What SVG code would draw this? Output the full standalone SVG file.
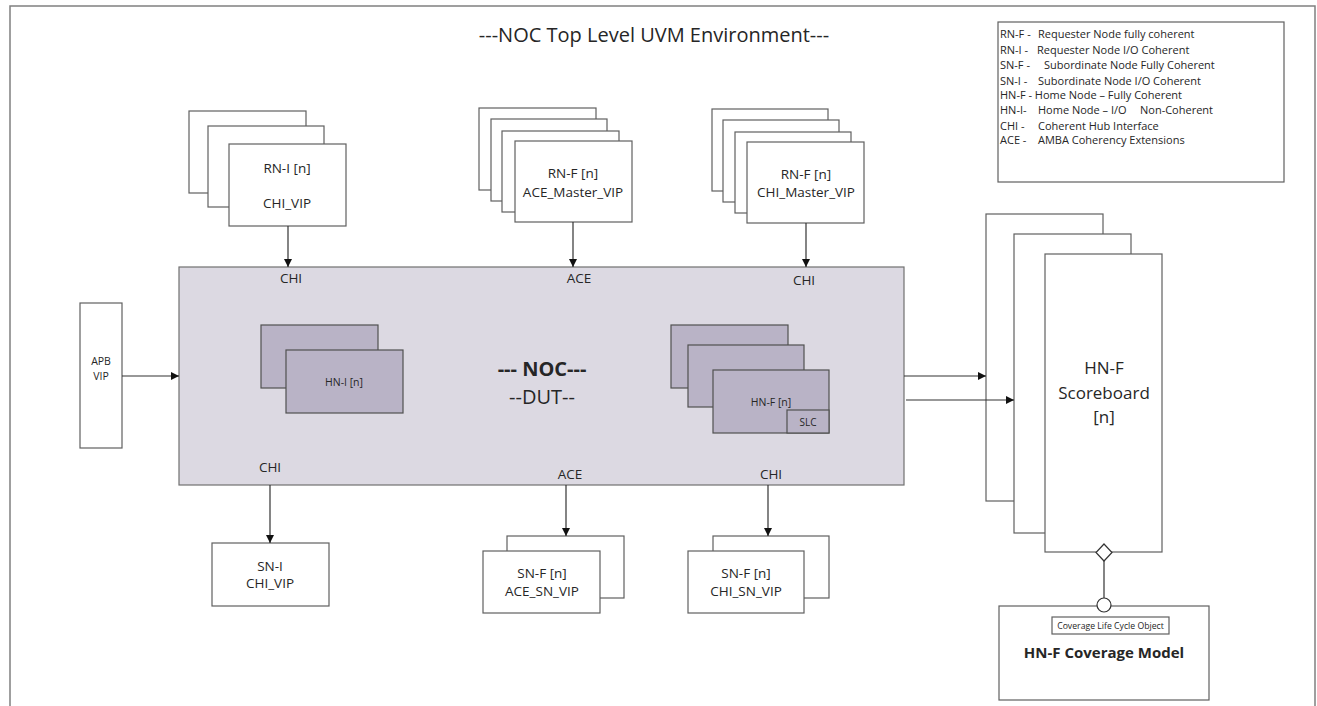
<svg xmlns="http://www.w3.org/2000/svg" width="1317" height="706" viewBox="0 0 1317 706">
<defs>
<style>
.box{fill:#fff;stroke:#606060;stroke-width:1.2}
.noc{fill:#dcd9e2;stroke:#707070;stroke-width:1.2}
.hn{fill:#b9b3c6;stroke:#505050;stroke-width:1.2}
.t{font-family:"Open Sans","Noto Sans",sans-serif;fill:#262626;text-anchor:middle;dominant-baseline:central}
.s12{font-size:13.5px}
.lg{font-family:"Open Sans","Noto Sans",sans-serif;fill:#262626;font-size:11px;dominant-baseline:central}
.conn{stroke:#333;stroke-width:1.2;fill:none}
</style>
<marker id="ah" viewBox="0 0 10 10" refX="10" refY="5" markerWidth="8" markerHeight="8" markerUnits="userSpaceOnUse" orient="auto">
<path d="M0,0 L10,5 L0,10 z" fill="#111"/>
</marker>
</defs>
<rect width="1317" height="706" fill="#fff"/>
<path d="M10,706 V6 H1315 V706" fill="none" stroke="#808080" stroke-width="1.5"/>
<text class="t" x="654" y="34" style="font-size:20px">---NOC Top Level UVM Environment---</text>

<g id="legend">
<rect class="box" x="998" y="22" width="286" height="160"/>
<text class="lg" y="33"><tspan x="1000">RN-F -</tspan><tspan x="1038">Requester Node fully coherent</tspan></text>
<text class="lg" y="49"><tspan x="1000">RN-I -</tspan><tspan x="1037">Requester Node I/O Coherent</tspan></text>
<text class="lg" y="64"><tspan x="1000">SN-F -</tspan><tspan x="1044">Subordinate Node Fully Coherent</tspan></text>
<text class="lg" y="80"><tspan x="1000">SN-I -</tspan><tspan x="1038">Subordinate Node I/O Coherent</tspan></text>
<text class="lg" y="94"><tspan x="1000">HN-F - Home Node – Fully Coherent</tspan></text>
<text class="lg" y="109"><tspan x="1000">HN-I-</tspan><tspan x="1038">Home Node – I/O</tspan><tspan x="1140">Non-Coherent</tspan></text>
<text class="lg" y="125"><tspan x="1000">CHI -</tspan><tspan x="1038">Coherent Hub Interface</tspan></text>
<text class="lg" y="139"><tspan x="1000">ACE -</tspan><tspan x="1038">AMBA Coherency Extensions</tspan></text>
</g>

<g id="rn-i">
<rect class="box" x="189" y="111" width="117" height="82"/>
<rect class="box" x="208" y="126" width="116" height="81"/>
<rect class="box" x="229" y="144" width="117" height="82"/>
<text class="t s12" x="287" y="168">RN-I [n]</text>
<text class="t s12" x="287" y="203">CHI_VIP</text>
</g>

<g id="rn-f-ace">
<rect class="box" x="479" y="108" width="117" height="82"/>
<rect class="box" x="491" y="119" width="116" height="82"/>
<rect class="box" x="502" y="131" width="117" height="81"/>
<rect class="box" x="515" y="141" width="117" height="81"/>
<text class="t s12" x="573" y="173">RN-F [n]</text>
<text class="t s12" x="573" y="192">ACE_Master_VIP</text>
</g>

<g id="rn-f-chi">
<rect class="box" x="712" y="109" width="116" height="82"/>
<rect class="box" x="723" y="120" width="116" height="82"/>
<rect class="box" x="735" y="132" width="116" height="81"/>
<rect class="box" x="747" y="142" width="117" height="81"/>
<text class="t s12" x="806" y="174">RN-F [n]</text>
<text class="t s12" x="806" y="192">CHI_Master_VIP</text>
</g>

<g id="noc">
<rect class="noc" x="179" y="267" width="725" height="218"/>
<text class="t s12" x="291" y="278">CHI</text>
<text class="t s12" x="579" y="278">ACE</text>
<text class="t s12" x="804" y="280">CHI</text>
<text class="t s12" x="270" y="467">CHI</text>
<text class="t s12" x="570" y="474">ACE</text>
<text class="t s12" x="771" y="474">CHI</text>
<text class="t" x="542" y="368" style="font-size:20px;font-weight:bold">--- NOC---</text>
<text class="t" x="542" y="396" style="font-size:20px">--DUT--</text>
</g>

<g id="hn-i">
<rect class="hn" x="261" y="325" width="117" height="63"/>
<rect class="hn" x="286" y="350" width="117" height="63"/>
<text class="t" x="344" y="382" style="font-size:10.5px">HN-I [n]</text>
</g>

<g id="hn-f">
<rect class="hn" x="671" y="325" width="117" height="63"/>
<rect class="hn" x="688" y="345" width="116" height="62"/>
<rect class="hn" x="713" y="370" width="116" height="63"/>
<rect class="hn" x="787" y="410" width="42" height="23"/>
<text class="t" x="771" y="402" style="font-size:10.5px">HN-F [n]</text>
<text class="t" x="808" y="422" style="font-size:10px">SLC</text>
</g>

<g id="apb">
<rect class="box" x="80" y="303" width="42" height="145"/>
<text class="t" x="101" y="361" style="font-size:10.5px">APB</text>
<text class="t" x="101" y="376" style="font-size:10.5px">VIP</text>
</g>

<g id="sn-i">
<rect class="box" x="212" y="543" width="117" height="63"/>
<text class="t s12" x="270" y="566">SN-I</text>
<text class="t s12" x="270" y="583">CHI_VIP</text>
</g>

<g id="sn-f-ace">
<rect class="box" x="507" y="536" width="117" height="62"/>
<rect class="box" x="483" y="551" width="117" height="62"/>
<text class="t s12" x="542" y="573">SN-F [n]</text>
<text class="t s12" x="542" y="591">ACE_SN_VIP</text>
</g>

<g id="sn-f-chi">
<rect class="box" x="713" y="536" width="116" height="62"/>
<rect class="box" x="688" y="551" width="116" height="62"/>
<text class="t s12" x="746" y="573">SN-F [n]</text>
<text class="t s12" x="746" y="591">CHI_SN_VIP</text>
</g>

<g id="scoreboard">
<rect class="box" x="986" y="214" width="117" height="287"/>
<rect class="box" x="1014" y="234" width="117" height="299"/>
<rect class="box" x="1045" y="254" width="117" height="298"/>
<text class="t" x="1104" y="367" style="font-size:17px">HN-F</text>
<text class="t" x="1104" y="392" style="font-size:17px">Scoreboard</text>
<text class="t" x="1104" y="416" style="font-size:17px">[n]</text>
</g>

<g id="coverage">
<rect class="box" x="999" y="606" width="210" height="94"/>
<rect class="box" x="1052" y="617" width="117" height="17" stroke-width="1"/>
<text class="t" x="1110.5" y="626" style="font-size:8.7px">Coverage Life Cycle Object</text>
<text class="t" x="1104" y="652" style="font-size:15px;font-weight:bold">HN-F Coverage Model</text>
</g>

<g id="connectors">
<line class="conn" x1="288" y1="226" x2="288" y2="267" marker-end="url(#ah)"/>
<line class="conn" x1="573" y1="222" x2="573" y2="267" marker-end="url(#ah)"/>
<line class="conn" x1="806" y1="223" x2="806" y2="267" marker-end="url(#ah)"/>
<line class="conn" x1="122" y1="376" x2="179" y2="376" marker-end="url(#ah)"/>
<line class="conn" x1="270" y1="485" x2="270" y2="543" marker-end="url(#ah)"/>
<line class="conn" x1="566" y1="485" x2="566" y2="536" marker-end="url(#ah)"/>
<line class="conn" x1="768" y1="485" x2="768" y2="536" marker-end="url(#ah)"/>
<line class="conn" x1="904" y1="376" x2="986" y2="376" marker-end="url(#ah)"/>
<line class="conn" x1="906" y1="400" x2="1014" y2="400" marker-end="url(#ah)"/>
<line class="conn" x1="1104" y1="561" x2="1104" y2="598"/>
<path d="M1104,544 L1112,552.5 L1104,561 L1096,552.5 Z" fill="#fff" stroke="#333" stroke-width="1.2"/>
<circle cx="1104" cy="605" r="7" fill="#fff" stroke="#333" stroke-width="1.2"/>
</g>
</svg>
